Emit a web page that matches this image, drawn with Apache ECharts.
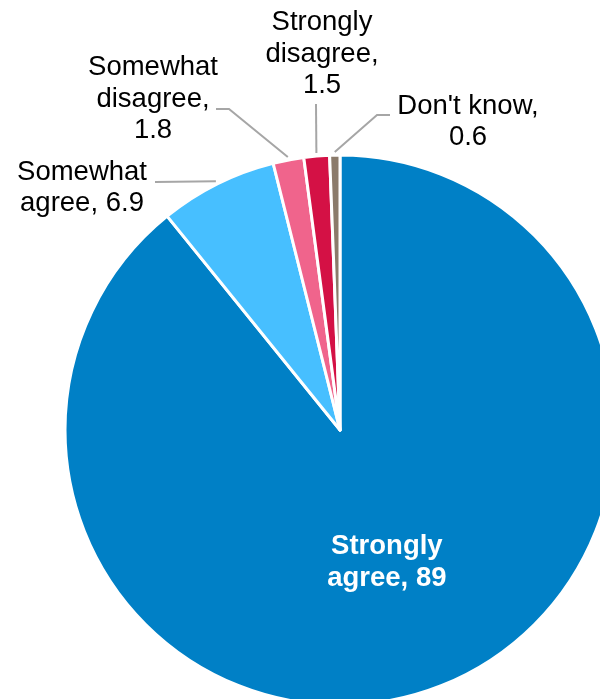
<!DOCTYPE html>
<html>
<head>
<meta charset="utf-8">
<script src="https://cdn.jsdelivr.net/npm/echarts@6/dist/echarts.min.js"></script>
<style>
  html, body { margin: 0; padding: 0; background: #ffffff; }
  #chart { width: 600px; height: 699px; }
</style>
</head>
<body>
<div id="chart"></div>
<script>
// Survey responses (percent)
const categories = ['Strongly agree', 'Somewhat agree', 'Somewhat disagree', 'Strongly disagree', "Don't know"];
const values = [89, 6.9, 1.8, 1.5, 0.6];
const colors = ['#0080C6', '#47BFFF', '#F0648C', '#D41145', '#8B7B6B'];
// How each label breaks across lines; {v} is replaced by the value
const labelTexts = ['Strongly\nagree, {v}', 'Somewhat\nagree, {v}', 'Somewhat\ndisagree,\n{v}', 'Strongly\ndisagree,\n{v}', "Don't know,\n{v}"];

const CX = 340, CY = 430, R = 275, LINE_R = 278;

// Placement of the outside labels (text block centre) and the start of each leader line
const outsideLayout = {
  1: { x: 82,  y: 188, line: [[155, 182]] },
  2: { x: 153, y: 99,  line: [[216, 109], [229, 109]] },
  3: { x: 322, y: 54,  line: [[316, 104]] },
  4: { x: 468, y: 122, line: [[390, 115], [377, 115]] }
};

const total = values.reduce((a, b) => a + b, 0);
// Point on the rim at the middle of slice i (clockwise from 12 o'clock)
function rimPoint(i, r) {
  let cum = 0;
  for (let k = 0; k < i; k++) cum += values[k];
  const a = (cum + values[i] / 2) / total * Math.PI * 2;
  return [CX + r * Math.sin(a), CY - r * Math.cos(a)];
}

const chart = echarts.init(document.getElementById('chart'), null, { renderer: 'canvas' });

const data = categories.map((name, i) => {
  const item = { name: name, value: values[i], itemStyle: { color: colors[i] } };
  if (i === 0) {
    item.label = { position: 'inside', color: '#ffffff', fontWeight: 'bold' };
  }
  return item;
});

chart.setOption({
  animation: false,
  series: [{
    type: 'pie',
    center: [CX, CY],
    radius: R,
    startAngle: 90,
    clockwise: true,
    avoidLabelOverlap: false,
    data: data,
    itemStyle: { borderColor: '#ffffff', borderWidth: 3 },
    label: {
      show: true,
      position: 'outside',
      fontFamily: 'Liberation Sans, Arial, sans-serif',
      fontSize: 27.5,
      lineHeight: 31.5,
      color: '#000000',
      align: 'center',
      formatter: p => labelTexts[p.dataIndex].replace('{v}', p.value)
    },
    labelLine: {
      show: true,
      lineStyle: { color: '#A6A6A6', width: 2 }
    },
    labelLayout: function (params) {
      const cfg = outsideLayout[params.dataIndex];
      if (!cfg) return {};
      const pts = cfg.line.map(p => p.slice());
      pts.push(rimPoint(params.dataIndex, LINE_R));
      return {
        x: cfg.x,
        y: cfg.y,
        align: 'center',
        verticalAlign: 'middle',
        labelLinePoints: pts
      };
    }
  }]
});
</script>
</body>
</html>
